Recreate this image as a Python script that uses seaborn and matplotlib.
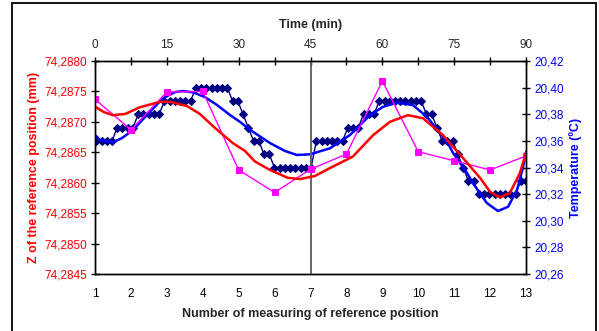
import numpy as np
import pandas as pd
import matplotlib
matplotlib.use("Agg")
import matplotlib.pyplot as plt
import seaborn as sns
from matplotlib.ticker import FuncFormatter
from matplotlib.patches import Rectangle

# ---------------- data ----------------
measure_no = [1, 2, 3, 4, 5, 6, 7, 8, 9, 10, 11, 12, 13]
z_measured = [74.28737, 74.28687, 74.28749, 74.28750, 74.28621, 74.28584, 74.28622,
              74.28647, 74.28767, 74.28651, 74.28636, 74.28621, 74.28644]

# temperature readings (step-like sensor data), sampled uniformly over 0..90 min
temp_values = [20.36, 20.36, 20.36, 20.36,
               20.37, 20.37, 20.37, 20.37,
               20.38, 20.38, 20.38, 20.38, 20.38,
               20.39, 20.39, 20.39, 20.39, 20.39, 20.39,
               20.40, 20.40, 20.40, 20.40, 20.40, 20.40, 20.40,
               20.39, 20.39, 20.38, 20.37, 20.36, 20.36, 20.35, 20.35,
               20.34, 20.34, 20.34, 20.34, 20.34, 20.34, 20.34, 20.34,
               20.36, 20.36, 20.36, 20.36, 20.36, 20.36,
               20.37, 20.37, 20.37,
               20.38, 20.38, 20.38,
               20.39, 20.39, 20.39, 20.39, 20.39, 20.39, 20.39, 20.39, 20.39,
               20.38, 20.38, 20.37, 20.36, 20.36, 20.36, 20.35, 20.34, 20.33, 20.33,
               20.32, 20.32, 20.32, 20.32, 20.32, 20.32, 20.32, 20.32,
               20.33, 20.33]
temp_time_start = 0.27
temp_time_end = 90.0

# smoothed temperature (blue), x in measurement numbers
blue_m = [1.03, 1.14, 1.50, 1.75, 2.06, 2.53, 2.89, 3.23, 3.45, 3.73, 4.06, 4.40,
          4.76, 5.04, 5.32, 5.87, 6.29, 6.62, 6.99, 7.54, 8.10, 8.66, 9.02, 9.41,
          9.85, 10.24, 10.80, 10.97, 11.36, 11.52, 11.91, 12.22, 12.50, 12.75,
          12.92, 13.00]
blue_temp = [20.3637, 20.3606, 20.3589, 20.3621, 20.3682, 20.3819, 20.3920, 20.3967,
             20.3974, 20.3965, 20.3929, 20.3869, 20.3794, 20.3742, 20.3682, 20.3584,
             20.3524, 20.3494, 20.3499, 20.3544, 20.3644, 20.3794, 20.3856, 20.3887,
             20.3869, 20.3781, 20.3594, 20.3509, 20.3359, 20.3283, 20.3133, 20.3073,
             20.3105, 20.3231, 20.3406, 20.3516]

# computed Z (red), x in measurement numbers
red_m = [1.00, 1.25, 1.50, 1.84, 2.25, 2.81, 3.09, 3.56, 3.92, 4.34, 4.84, 5.18,
         5.45, 5.87, 6.37, 6.71, 7.12, 7.54, 8.18, 8.74, 9.21, 9.71, 10.13, 10.69,
         11.24, 11.72, 12.00, 12.27, 12.55, 12.83, 13.00]
red_z = [74.28725, 74.28716, 74.28711, 74.28713, 74.28724, 74.28733, 74.28733,
         74.28726, 74.28713, 74.28690, 74.28665, 74.28652, 74.28635, 74.28621,
         74.28608, 74.28606, 74.28611, 74.28624, 74.28643, 74.28678, 74.28700,
         74.28711, 74.28706, 74.28678, 74.28641, 74.28608, 74.28585, 74.28576,
         74.28583, 74.28616, 74.28649]

z_ticks = [74.2845, 74.2850, 74.2855, 74.2860, 74.2865, 74.2870, 74.2875, 74.2880]
temp_ticks = [20.26, 20.28, 20.30, 20.32, 20.34, 20.36, 20.38, 20.40, 20.42]
time_ticks = [0, 7.5, 15, 22.5, 30, 37.5, 45, 52.5, 60, 67.5, 75, 82.5, 90]
time_labels = ["0", "", "15", "", "30", "", "45", "", "60", "", "75", "", "90"]
min_per_measure = 7.5

# ---------------- style ----------------
sns.set_style("white")
plt.rcParams['font.family'] = ['Liberation Sans', 'DejaVu Sans']

fig = plt.figure(figsize=(5.99, 3.31), dpi=100)
ax = fig.add_axes([95 / 599, 1 - 274 / 331, (526 - 95) / 599, (274 - 61) / 331])
ax2 = ax.twinx()
ax.set_zorder(ax2.get_zorder() + 1)
ax.patch.set_visible(False)
ax2.patch.set_facecolor('#FFFFCC')

temp_time = np.linspace(temp_time_start, temp_time_end, len(temp_values))
df_temp = pd.DataFrame({"m": 1 + temp_time / min_per_measure, "T": temp_values})
df_blue = pd.DataFrame({"m": blue_m, "T": blue_temp})
df_z = pd.DataFrame({"m": measure_no, "Z": z_measured})
df_red = pd.DataFrame({"m": red_m, "Z": red_z})

sns.lineplot(data=df_temp, x="m", y="T", ax=ax2, color='#000080', lw=1.0,
             marker='D', markersize=4.5, markeredgecolor='#000080', estimator=None,
             sort=False, legend=False)
sns.lineplot(data=df_blue, x="m", y="T", ax=ax2, color='#0000FF', lw=1.8,
             estimator=None, sort=False, legend=False)
sns.lineplot(data=df_z, x="m", y="Z", ax=ax, color='#FF00FF', lw=1.0,
             marker='s', markersize=4.5, markeredgecolor='#FF00FF', estimator=None,
             sort=False, legend=False)
sns.lineplot(data=df_red, x="m", y="Z", ax=ax, color='#FF0000', lw=1.8,
             estimator=None, sort=False, legend=False)

ax.axvline(7, color='#5a5a5a', lw=1.3, zorder=0.5)

ax.set_xlim(1, 13)
ax.set_ylim(z_ticks[0], z_ticks[-1])
ax2.set_ylim(temp_ticks[0], temp_ticks[-1])

comma4 = FuncFormatter(lambda v, p: f"{v:.4f}".replace('.', ','))
comma2 = FuncFormatter(lambda v, p: f"{v:.2f}".replace('.', ','))
ax.set_yticks(z_ticks)
ax.yaxis.set_major_formatter(comma4)
ax2.set_yticks(temp_ticks)
ax2.yaxis.set_major_formatter(comma2)
ax.set_xticks(measure_no)
ax.set_xticklabels([str(m) for m in measure_no])

ax.tick_params(axis='y', direction='inout', length=6, width=1, color='black',
               labelcolor='#FF0000', labelsize=8.5, pad=3, left=True)
ax2.tick_params(axis='y', direction='inout', length=6, width=1, color='black',
                labelcolor='#0000FF', labelsize=8.5, pad=3, right=True)
ax.tick_params(axis='x', length=0, labelsize=8.5, pad=10, labelcolor='black')

secax = ax.secondary_xaxis('top', functions=(lambda m: (m - 1) * min_per_measure,
                                             lambda t: t / min_per_measure + 1))
secax.set_xticks(time_ticks)
secax.set_xticklabels(time_labels)
secax.tick_params(axis='x', direction='inout', length=6, width=1, color='black',
                  labelsize=8.5, pad=4)
secax.set_xlabel("Time (min)", fontsize=9, fontweight='bold', labelpad=8)

ax.set_ylabel("Z of the reference position (mm)", color='#FF0000', fontsize=9,
              fontweight='bold', labelpad=3)
ax2.set_ylabel("Temperature (ºC)", color='#0000FF', fontsize=9,
               fontweight='bold', labelpad=4)
ax.set_xlabel("Number of measuring of reference position", fontsize=9,
              fontweight='bold', labelpad=6)

for a in (ax, ax2):
    for s in a.spines.values():
        s.set_color('black')
        s.set_linewidth(1.0)
secax.spines['top'].set_color('black')

fig.add_artist(Rectangle((11.5 / 599, -0.05), (596 - 11.5) / 599, 0.99 + 0.05,
                         transform=fig.transFigure, fill=False, lw=1.3,
                         edgecolor='black'))

fig.savefig("out.png", dpi=100)
